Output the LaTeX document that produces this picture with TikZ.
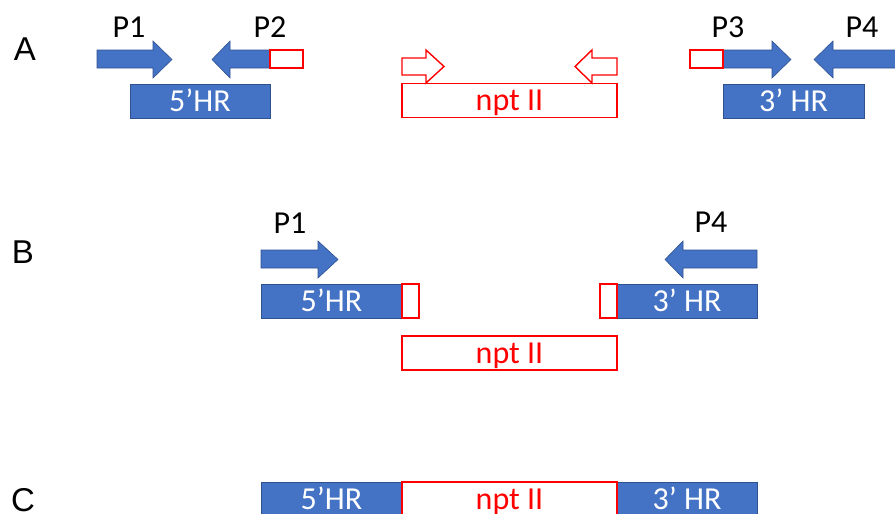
\documentclass[tikz,border=0pt]{standalone}
\usepackage{fontspec}
\setmainfont{Carlito}
\newfontfamily\arialf{Liberation Sans}
\definecolor{hrblue}{HTML}{4472C4}
\definecolor{hredge}{HTML}{2F528F}
\definecolor{nptred}{HTML}{FF0000}
\begin{document}
\begin{tikzpicture}[x=1pt,y=-1pt,
  lab/.style={font=\fontsize{32}{32}\selectfont, inner sep=0pt, anchor=base, text=black},
  rowlab/.style={font=\arialf\fontsize{33}{33}\selectfont, inner sep=0pt, anchor=base, text=black},
  hrbox/.style={draw=hredge, fill=hrblue, line width=0.8pt, text=white,
    font=\fontsize{32}{32}\selectfont, inner sep=0pt, text height=20.5pt, text depth=0pt,
    minimum height=34pt},
  nptbox/.style={draw=nptred, fill=white, line width=1.4pt, text=nptred,
    font=\fontsize{32}{32}\selectfont, inner sep=0pt, text height=20.5pt, text depth=0pt,
    minimum height=34pt, minimum width=215pt},
  tagbox/.style={draw=nptred, fill=white, line width=1.4pt, inner sep=0pt},
  primer/.style={fill=hrblue, draw=hredge, line width=0.6pt},
  openarrow/.style={draw=nptred, fill=white, line width=1.4pt, line join=miter}
]
\useasboundingbox (0,0) rectangle (895,514);

% ---------------- Row A ----------------
\node[rowlab] (labA) at (25,60) {A};
\node[lab] (p1a) at (129,37) {P1};
\node[lab] (p2a) at (270,37) {P2};
\node[lab] (p3a) at (728,37) {P3};
\node[lab] (p4a) at (862,37) {P4};

\node[hrbox, minimum width=140pt] (hr5a) at (200,101) {5’HR};
\node[hrbox, minimum width=141pt] (hr3a) at (793.5,101) {3’ HR};
\node[nptbox] (npta) at (509.5,100.5) {npt II};

% primers
\path[primer] (97,50) -- (153,50) -- (153,41) -- (172,59.5) -- (153,78) -- (153,68) -- (97,68) -- cycle;
\path[primer] (270,50) -- (230,50) -- (230,41) -- (212,59.5) -- (230,78) -- (230,68) -- (270,68) -- cycle;
\node[tagbox, minimum width=33pt, minimum height=18pt] (tag2) at (286.5,59) {};
\path[primer] (723,50) -- (772,50) -- (772,41) -- (791,59.5) -- (772,78) -- (772,68) -- (723,68) -- cycle;
\node[tagbox, minimum width=33pt, minimum height=18pt] (tag3) at (706.5,59) {};
\path[primer] (905,50) -- (833,50) -- (833,41) -- (814,59.5) -- (833,78) -- (833,68) -- (905,68) -- cycle;

% open red arrows
\path[openarrow] (402,58) -- (426,58) -- (426,50) -- (444,66.5) -- (426,83) -- (426,75) -- (402,75) -- cycle;
\path[openarrow] (617,58) -- (592,58) -- (592,50) -- (575,66.5) -- (592,83) -- (592,75) -- (617,75) -- cycle;

% ---------------- Row B ----------------
\node[rowlab] (labB) at (23,263) {B};
\node[lab] (p1b) at (290,233) {P1};
\node[lab] (p4b) at (711,232) {P4};
\path[primer] (261,250) -- (318,250) -- (318,241) -- (338,259.5) -- (318,278) -- (318,268) -- (261,268) -- cycle;
\path[primer] (757,250) -- (683,250) -- (683,241) -- (665,259.5) -- (683,278) -- (683,268) -- (757,268) -- cycle;

\node[hrbox, minimum width=141pt] (hr5b) at (331.5,301) {5’HR};
\node[tagbox, minimum width=17pt, minimum height=34pt] (tag5b) at (410.5,301) {};
\node[hrbox, minimum width=140pt] (hr3b) at (687,301) {3’ HR};
\node[tagbox, minimum width=17pt, minimum height=34pt] (tag3b) at (608.5,301) {};
\node[nptbox] (nptb) at (509.5,353) {npt II};

% ---------------- Row C ----------------
\node[rowlab] (labC) at (23,511) {C};
\node[hrbox, minimum width=141pt] (hr5c) at (331.5,499) {5’HR};
\node[hrbox, minimum width=140pt] (hr3c) at (687,499) {3’ HR};
\node[nptbox] (nptc) at (509.5,499) {npt II};
\end{tikzpicture}
\end{document}
